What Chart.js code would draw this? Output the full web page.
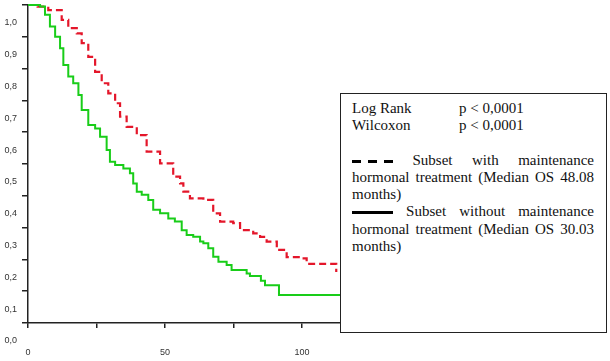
<!DOCTYPE html>
<html>
<head>
<meta charset="utf-8">
<script src="https://cdn.jsdelivr.net/npm/chart.js@4"></script>
<style>
  body { margin: 0; background: #fff; }
  #wrap { position: relative; width: 610px; height: 361px; }
  #box {
    position: absolute; left: 340px; top: 93px; width: 242px; height: 232px;
    border: 1.5px solid #222; background: #fff;
    padding: 6px 12px 0 11px;
    font-family: "Liberation Serif", "Times New Roman", serif; font-size: 15px;
    line-height: 17.3px; color: #111; text-align: justify;
  }
  .row span { display: inline-block; width: 107px; }
  .dash { display: inline-block; width: 41px; height: 3px; vertical-align: 2px;
    background: repeating-linear-gradient(90deg, #000 0 9px, transparent 9px 16px); }
  .solid { display: inline-block; width: 41px; height: 3px; vertical-align: 2px; background: #000; }
</style>
</head>
<body>
<div id="wrap">
  <canvas id="g1" width="610" height="361"></canvas>
  <div id="box">
    <div class="row"><span>Log Rank</span>p &lt; 0,0001</div>
    <div class="row"><span>Wilcoxon</span>p &lt; 0,0001</div>
    <div style="height:17px"></div>
    <div><i class="dash"></i> Subset with maintenance hormonal treatment (Median OS 48.08 months)</div>
    <div><i class="solid"></i> Subset without maintenance hormonal treatment (Median OS 30.03 months)</div>
  </div>
</div>
<script>
// with maintenance (red dashed)
var redT = [0, 3.5, 7.4, 12.3, 14.7, 17.8, 19.6, 22.0, 24.5, 26.9, 29.3, 31.8, 33.6, 36.0, 39.7, 43.3, 48.2, 53.0, 55.5, 56.7, 59.1, 64.0, 67.6, 70.1, 74.9, 77.4, 82.2, 84.7, 87.1, 90.8, 94.4, 99.3, 101.7, 109.0, 112.5];
var redS = [1.0, 0.995, 0.984, 0.953, 0.927, 0.911, 0.880, 0.837, 0.790, 0.754, 0.722, 0.691, 0.649, 0.617, 0.591, 0.539, 0.502, 0.460, 0.439, 0.413, 0.392, 0.387, 0.345, 0.319, 0.314, 0.292, 0.282, 0.271, 0.256, 0.230, 0.207, 0.203, 0.186, 0.186, 0.16];

// without maintenance (green)
var greenT = [0, 4.4, 6.2, 8.0, 9.9, 11.7, 12.9, 14.7, 16.5, 18.4, 19.6, 22.0, 24.5, 26.3, 28.7, 29.9, 31.8, 34.8, 37.2, 38.4, 39.7, 41.5, 43.9, 45.7, 48.2, 51.2, 53.6, 56.1, 57.9, 60.3, 62.8, 64.0, 65.8, 67.6, 69.5, 72.5, 74.3, 79.8, 81.0, 85.0, 86.5, 91.6, 114];
var greenS = [1.0, 0.995, 0.969, 0.932, 0.900, 0.864, 0.811, 0.775, 0.754, 0.717, 0.670, 0.623, 0.612, 0.586, 0.544, 0.507, 0.497, 0.486, 0.471, 0.439, 0.413, 0.403, 0.387, 0.356, 0.345, 0.329, 0.319, 0.292, 0.277, 0.271, 0.256, 0.251, 0.235, 0.208, 0.193, 0.182, 0.167, 0.156, 0.148, 0.133, 0.119, 0.088, 0.088];

var xLabels = [0, 50, 100];

function pts(t, s) {
    return t.map(function(e, i) { return {x: e, y: s[i]}; });
}

var ctx = document.getElementById('g1');

var myChart = new Chart(ctx, {
    type: 'line',
    data: {
        datasets: [{
            data: pts(greenT, greenS),
            borderColor: 'rgb(25, 205, 25)',
            borderWidth: 2,
            pointRadius: 0,
            stepped: 'before',
            clip: false
        }, {
            data: pts(redT, redS),
            borderColor: 'rgb(228, 22, 42)',
            borderWidth: 2.2,
            borderDash: [7, 4],
            pointRadius: 0,
            stepped: 'before',
            clip: false
        }]
    },
    options: {
        responsive: false,
        animation: false,
        layout: {padding: {left: 0, top: 5, right: 198.4, bottom: 0}},
        plugins: {legend: {display: false}, tooltip: {enabled: false}},
        scales: {
            x: {
                type: 'linear',
                min: 0,
                max: 140,
                afterFit: function(s) { s.height = 38; s.paddingLeft = 0; s.paddingRight = 0; },
                border: {display: true, color: '#222', width: 1.5},
                grid: {drawOnChartArea: false, drawTicks: true, tickLength: 5, color: '#222', lineWidth: 1.5},
                ticks: {
                    stepSize: 25,
                    padding: 19,
                    color: '#333',
                    font: {family: 'Liberation Sans', size: 9},
                    maxRotation: 0,
                    callback: function(v) { return xLabels.indexOf(v) >= 0 ? String(v) : ''; }
                }
            },
            y: {
                min: 0,
                max: 1,
                afterFit: function(s) { s.width = 28; s.paddingTop = 0; s.paddingBottom = 0; },
                border: {display: true, color: '#222', width: 1.5},
                grid: {drawOnChartArea: false, drawTicks: true, tickLength: 6, color: '#222', lineWidth: 1.5},
                ticks: {
                    stepSize: 0.1,
                    padding: 5,
                    labelOffset: 18,
                    color: '#333',
                    font: {family: 'Liberation Sans', size: 9},
                    callback: function(v) { return v.toFixed(1).replace('.', ','); }
                }
            }
        }
    }
});
</script>
</body>
</html>
